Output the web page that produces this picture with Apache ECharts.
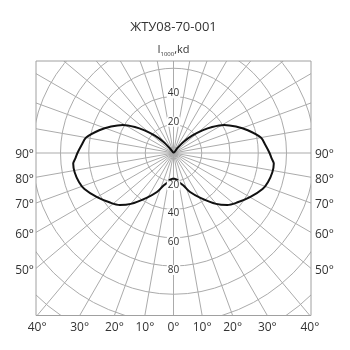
<!DOCTYPE html>
<html>
<head>
<meta charset="utf-8">
<script src="https://cdn.jsdelivr.net/npm/echarts@6/dist/echarts.min.js"></script>
<style>html,body{margin:0;padding:0;background:#fff}#c{width:350px;height:350px}</style>
</head>
<body>
<div id="c"></div>
<script>
// ---- data ----
var title = 'ЖТУ08-70-001';
var unitLabel = 'I';
var unitSub = '1000';
var unitTail = ',kd';
// angle from nadir (deg) and luminous intensity (kd per 1000 lm), one half (mirrored)
var angles = [0, 7, 13, 17, 23, 31, 40, 46, 52, 60, 68, 73, 79, 84, 87, 90, 95, 100, 107, 113, 119, 124, 128, 133, 138, 142, 148, 180];
var intensity = [18, 19, 22, 24, 30, 37, 47, 53, 57, 62.5, 68, 70, 71.3, 71.4, 69.5, 68, 65.3, 62.8, 55, 48, 41, 33, 26, 18, 10.5, 4, 0.5, 0];
var ringLabelsUp = [20, 40];
var ringLabelsDown = [20, 40, 60, 80];
var sideAngles = [90, 80, 70, 60, 50];
var bottomAngles = [0, 10, 20, 30, 40];

// ---- layout ----
var cx = 173.5, cy = 153;
var fL = 36, fR = 311, fT = 61, fB = 315.5;
var rMax = 160, rPx = 226;
var k = rPx / rMax;
var gridColor = '#ababab';
var font = '"Open Sans", sans-serif';

var seriesData = [];
for (var i = 0; i < angles.length; i++) seriesData.push([intensity[i], angles[i]]);
for (var j = angles.length - 1; j >= 0; j--) seriesData.push([intensity[j], 360 - angles[j]]);

var graphics = [
  {type:'rect', z:10, shape:{x:0, y:0, width:350, height:fT}, style:{fill:'#fff'}, silent:true},
  {type:'rect', z:10, shape:{x:0, y:fB, width:350, height:350-fB}, style:{fill:'#fff'}, silent:true},
  {type:'rect', z:10, shape:{x:0, y:0, width:fL, height:350}, style:{fill:'#fff'}, silent:true},
  {type:'rect', z:10, shape:{x:fR, y:0, width:350-fR, height:350}, style:{fill:'#fff'}, silent:true},
  {type:'rect', z:11, shape:{x:fL, y:fT, width:fR-fL, height:fB-fT}, style:{fill:null, stroke:'#a0a0a0', lineWidth:1}, silent:true},
  {type:'text', z:20, x:cx, y:27, style:{text:title, font:'13px ' + font, fill:'#333', align:'center', verticalAlign:'middle'}},
  {type:'text', z:20, x:cx, y:50, style:{text:'{a|' + unitLabel + '}{s|' + unitSub + '}{a|' + unitTail + '}', align:'center', verticalAlign:'middle',
     rich:{a:{font:'11px ' + font, fill:'#333'}, s:{font:'6px ' + font, fill:'#333', padding:[8,0,0,0]}}}}
];
ringLabelsUp.forEach(function (v) {
  graphics.push({type:'text', z:15, x:cx, y:cy - v * k - 3, style:{text:String(v), font:'10px ' + font, fill:'#333', align:'center', verticalAlign:'middle', backgroundColor:'#fff', padding:[0,1]}});
});
ringLabelsDown.forEach(function (v) {
  graphics.push({type:'text', z:15, x:cx, y:cy + v * k + 4, style:{text:String(v), font:'10px ' + font, fill:'#333', align:'center', verticalAlign:'middle', backgroundColor:'#fff', padding:[0,1]}});
});
sideAngles.forEach(function (a) {
  var y = cy + (cx - fL) / Math.tan(a * Math.PI / 180) + 2;
  graphics.push({type:'text', z:20, x:fL - 2, y:y, style:{text:a + '°', font:'12px ' + font, fill:'#333', align:'right', verticalAlign:'middle'}});
  graphics.push({type:'text', z:20, x:fR + 4, y:y, style:{text:a + '°', font:'12px ' + font, fill:'#333', align:'left', verticalAlign:'middle'}});
});
bottomAngles.forEach(function (a) {
  var dx = (fB - cy) * Math.tan(a * Math.PI / 180);
  graphics.push({type:'text', z:20, x:cx - dx, y:fB + 12, style:{text:a + '°', font:'12px ' + font, fill:'#333', align:'center', verticalAlign:'middle'}});
  if (a > 0) graphics.push({type:'text', z:20, x:cx + dx, y:fB + 12, style:{text:a + '°', font:'12px ' + font, fill:'#333', align:'center', verticalAlign:'middle'}});
});

var chart = echarts.init(document.getElementById('c'), null, {renderer:'canvas'});
chart.setOption({
  animation: false,
  backgroundColor: '#fff',
  polar: {center: [cx, cy], radius: rPx},
  angleAxis: {
    type: 'value', min: 0, max: 360, interval: 10, startAngle: 270, clockwise: true,
    axisLine: {show: false}, axisTick: {show: false}, axisLabel: {show: false},
    splitLine: {show: true, lineStyle: {color: gridColor, width: 1}}
  },
  radiusAxis: {
    type: 'value', min: 0, max: rMax, interval: 20,
    axisLine: {show: false}, axisTick: {show: false}, axisLabel: {show: false},
    splitLine: {show: true, lineStyle: {color: gridColor, width: 1}}
  },
  series: [{
    type: 'line', coordinateSystem: 'polar', data: seriesData, symbol: 'none', smooth: 0.3, z: 5,
    lineStyle: {color: '#111', width: 2}
  }],
  graphic: graphics
});
</script>
</body>
</html>
